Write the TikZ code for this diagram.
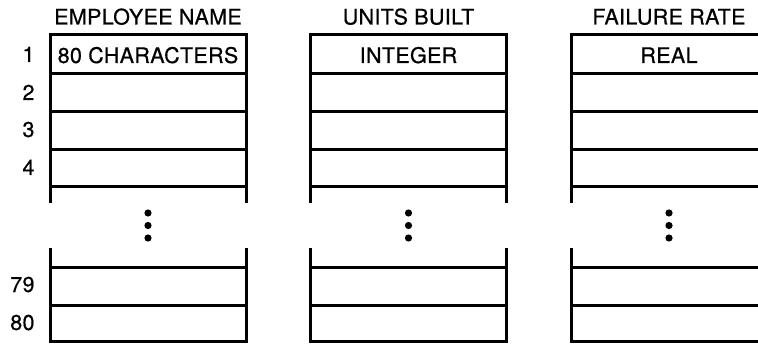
\documentclass[tikz,border=0pt]{standalone}
\usepackage{fontspec}
\setmainfont{TeX Gyre Heros}[FakeBold=0.6, LetterSpace=1.5]
\tikzset{
    texto/.style={anchor=base, inner sep=0pt, font=\fontsize{21.5}{24}\selectfont},
    numero/.style={texto, anchor=base east},
    punto/.style={fill=black, draw=none}
}
\begin{document}
\begin{tikzpicture}[x=1pt, y=1pt, line width=3pt]
    \useasboundingbox (0,0) rectangle (758,343);
    \clip (0,0) rectangle (758,343);
    % Columnas
    \foreach \c/\titulo/\tipo in {1/EMPLOYEE NAME/80 CHARACTERS, 2/UNITS BUILT/INTEGER, 3/FAILURE RATE/REAL} {
        \pgfmathsetmacro\xa{50 + (\c-1)*260.5}
        \pgfmathsetmacro\xb{\xa + 196}
        \pgfmathsetmacro\xm{\xa + 98}
        \node[texto] (h\c) at (\xm,318.5) {\titulo};
        \node[texto] (t\c) at (\xm,280) {\tipo};
        % parte superior
        \draw (\xa,140) -- (\xa,308) -- (\xb,308) -- (\xb,140);
        \foreach \y in {269,231,193,156}
            \draw (\xa,\y) -- (\xb,\y);
        % puntos
        \foreach \y in {130,117.5,105}
            \fill[punto] (\xm,\y) circle (3.6);
        % parte inferior
        \draw (\xa,95) -- (\xa,2) -- (\xb,2) -- (\xb,95);
        \foreach \y in {75,38}
            \draw (\xa,\y) -- (\xb,\y);
    }
    % Numeros de fila
    \foreach \n/\y in {1/281, 2/243, 3/206, 4/168, 79/51, 80/13}
        \node[numero] (n\n) at (36,\y) {\n};
\end{tikzpicture}
\end{document}
